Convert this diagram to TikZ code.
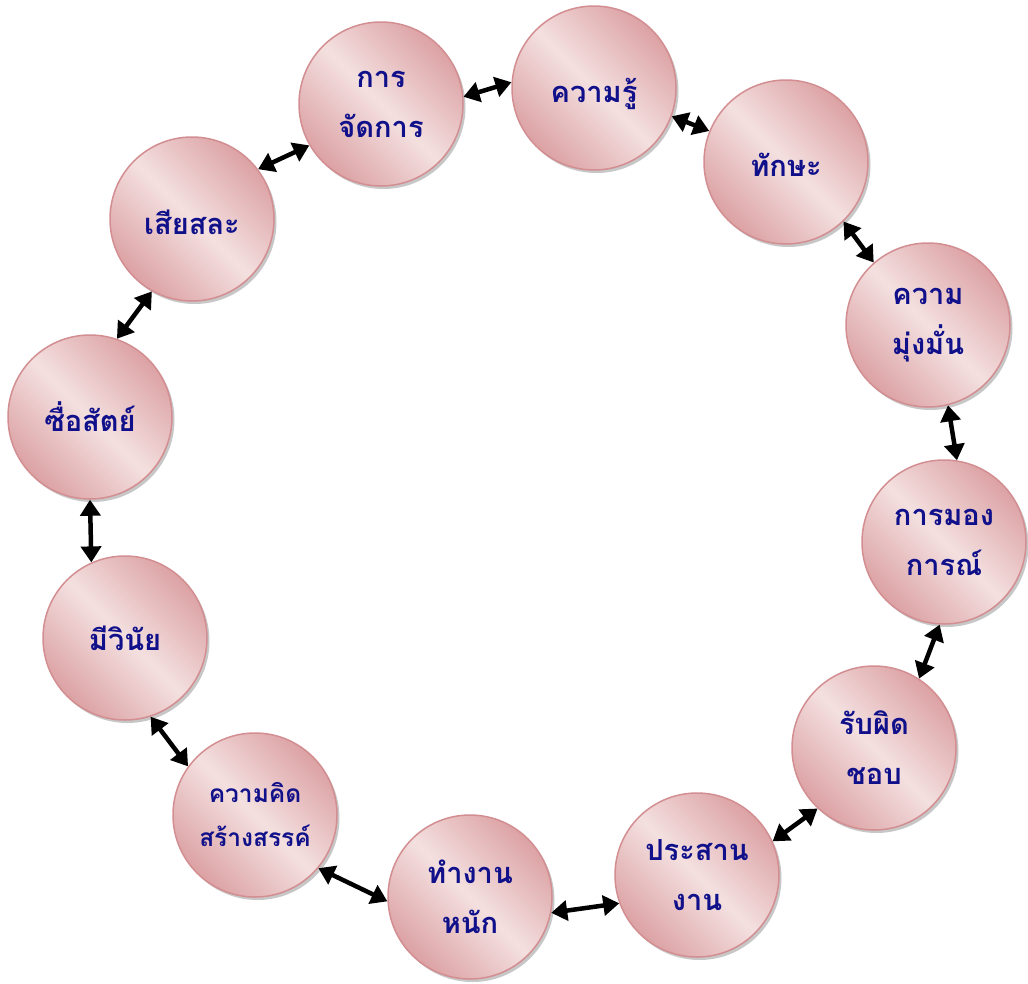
\documentclass[tikz,border=0pt]{standalone}
\usepackage{fontspec}
\newfontfamily\thaifont[Script=Thai]{Loma}
\usetikzlibrary{arrows.meta,shadows}
\definecolor{ringdark}{HTML}{DCA2A4}
\definecolor{ringlight}{HTML}{F4E0E0}
\definecolor{ringedge}{HTML}{D38E92}
\definecolor{txtnavy}{HTML}{10108A}
\newcommand{\lowr}[2]{\raisebox{-#1}[\height][\depth]{#2}}
\tikzset{
 bubble/.style={circle, minimum size=164pt, inner sep=0pt, draw=ringedge, line width=1.5pt,
   left color=ringdark, right color=ringdark, middle color=ringlight, shading angle=135,
   drop shadow={shadow xshift=2.5pt, shadow yshift=-3pt, fill=black!40, opacity=0.55},
   font=\thaifont\bfseries\fontsize{29}{50}\selectfont, text=txtnavy, align=center},
 smalltext/.style={font=\thaifont\bfseries\fontsize{24.5}{44}\selectfont},
 link/.style={line width=4.5pt, {Triangle[length=16pt,width=20pt]}-{Triangle[length=16pt,width=20pt]}}
}
\begin{document}
\begin{tikzpicture}[x=1pt,y=-1pt]
\useasboundingbox (0,0) rectangle (1028,983);
\node[bubble] (jat) at (381,104) {การ\\จัดการ};
\node[bubble] (roo) at (594,88) {\lowr{6pt}{ความรู้}};
\node[bubble] (tak) at (786,162) {\lowr{3pt}{ทักษะ}};
\node[bubble] (mung) at (928,325) {ความ\\มุ่งมั่น};
\node[bubble] (mong) at (944,542) {การมอง\\การณ์};
\node[bubble] (rap) at (874,748) {รับผิด\\ชอบ};
\node[bubble] (pra) at (697,875) {ประสาน\\งาน};
\node[bubble] (tam) at (470,897) {ทำงาน\\หนัก};
\node[bubble,smalltext] (kid) at (255,815) {ความคิด\\สร้างสรรค์};
\node[bubble] (win) at (125,638) {มีวินัย};
\node[bubble] (sue) at (90,417) {ซื่อสัตย์};
\node[bubble] (sia) at (192,219) {\lowr{3pt}{เสียสละ}};
\draw[link] (jat.5) -- (roo.176);
\draw[link] (roo.-20) -- (tak.158);
\draw[link] (tak.-46) -- (mung.131);
\draw[link] (mung.-76) -- (mong.81);
\draw[link] (mong.-93) -- (rap.57);
\draw[link] (rap.227) -- (pra.24);
\draw[link] (pra.200) -- (tam.-11);
\draw[link] (tam.183) -- (kid.-40);
\draw[link] (kid.144) -- (win.-72);
\draw[link] (win.114) -- (sue.-90);
\draw[link] (sue.71) -- (sia.241);
\draw[link] (sia.37) -- (jat.210);
\end{tikzpicture}
\end{document}
